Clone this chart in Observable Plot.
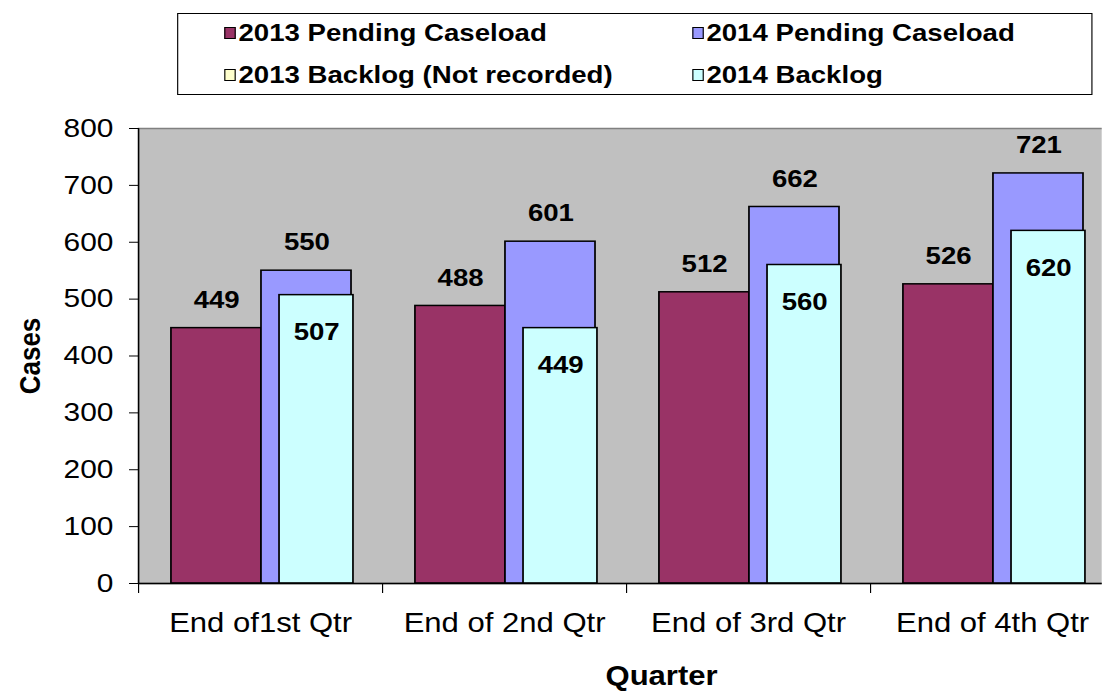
<!DOCTYPE html>
<html><head><meta charset="utf-8">
<script src="https://cdn.jsdelivr.net/npm/d3@7"></script>
<script src="https://cdn.jsdelivr.net/npm/@observablehq/plot@0.6"></script>
<style>
body{margin:0;background:#fff;font-family:"Liberation Sans",Arial,sans-serif;overflow:hidden}
#outer{position:relative;width:1102px;height:700px;overflow:hidden}
#wrap{position:absolute;left:0;top:0;height:700px;transform-origin:0 0}
#legend{position:absolute;border:1px solid #000;background:#fff;box-sizing:border-box}
.item{position:absolute;font-weight:bold;display:flex;align-items:center;line-height:1;white-space:nowrap;color:#000}
.sw{height:12px;border:1.5px solid #000;box-sizing:border-box;margin-right:2px}
</style></head><body>
<div id="outer"><div id="wrap"><div id="chart"></div><div id="legend"></div></div></div>
<script>
const quarters = ["End of1st Qtr", "End of 2nd Qtr", "End of 3rd Qtr", "End of 4th Qtr"];
const pending2013 = [449, 488, 512, 526];
const pending2014 = [550, 601, 662, 721];
const backlog2014 = [507, 449, 560, 620];
const backlog2013 = [null, null, null, null]; // not recorded
const yTicks = [0, 100, 200, 300, 400, 500, 600, 700, 800];
const seriesNames = ["2013 Pending Caseload", "2014 Pending Caseload", "2013 Backlog (Not recorded)", "2014 Backlog"];
const seriesColors = ["#993366", "#9999FF", "#FFFFCC", "#CCFFFF"];

// The reference rendering is stretched horizontally; reproduce with a uniform x-stretch.
const S = 1.15;
const W = 1102 / S;
const rows = quarters.map((q, i) => ({i, q, p13: pending2013[i], p14: pending2014[i], b14: backlog2014[i]}));

const FONT = '"Liberation Sans", Arial, sans-serif';
const chart = Plot.plot({
  width: W, height: 700,
  marginLeft: 138 / S, marginRight: W - 1114 / S, marginTop: 128, marginBottom: 117,
  style: {fontFamily: FONT, fontSize: "24px", color: "#000", background: "transparent", overflow: "hidden"},
  x: {type: "linear", domain: [0, 4], axis: null},
  y: {domain: [0, 800], axis: null, label: null},
  marks: [
    Plot.frame({fill: "#C0C0C0", stroke: "#808080", strokeWidth: 1.5}),
    Plot.rect(rows, {x1: d => d.i + 0.135, x2: d => d.i + 0.504, y1: () => 0, y2: "p13", fill: seriesColors[0], stroke: "#000", strokeWidth: 1.5}),
    Plot.rect(rows, {x1: d => d.i + 0.504, x2: d => d.i + 0.873, y1: () => 0, y2: "p14", fill: seriesColors[1], stroke: "#000", strokeWidth: 1.5}),
    Plot.rect(rows, {x1: d => d.i + 0.578, x2: d => d.i + 0.881, y1: () => 0, y2: "b14", fill: seriesColors[3], stroke: "#000", strokeWidth: 1.5}),
    Plot.ruleY([0], {stroke: "#000", strokeWidth: 1.5}),
    Plot.ruleX([0], {stroke: "#000", strokeWidth: 1.2}),
    Plot.axisY({ticks: yTicks, tickSize: 9 / S, tickPadding: 14, fontSize: 26, label: null, stroke: "#000"}),
    Plot.axisX({ticks: [0, 1, 2, 3, 4], tickSize: 10, tickFormat: () => "", label: null, stroke: "#000"}),
    Plot.text(rows, {x: d => d.i + 0.5, text: "q", frameAnchor: "bottom", dy: 49, fontSize: 27}),
    Plot.text(rows, {x: d => d.i + 0.32, y: "p13", text: "p13", dy: -28, fontSize: 24, fontWeight: "bold"}),
    Plot.text(rows, {x: d => d.i + 0.69, y: "p14", text: "p14", dy: -28, fontSize: 24, fontWeight: "bold"}),
    Plot.text(rows, {x: d => d.i + 0.73, y: "b14", text: "b14", dy: 37, fontSize: 24, fontWeight: "bold"}),
    Plot.text(["Cases"], {frameAnchor: "left", textAnchor: "middle", dx: (30 - 138) / S, rotate: -90, fontSize: 26, fontWeight: "bold"}),
    Plot.text(["Quarter"], {frameAnchor: "bottom", textAnchor: "middle", dx: 35 / S, dy: 102, fontSize: 27, fontWeight: "bold"})
  ]
});
document.getElementById("chart").append(chart);
const wrap = document.getElementById("wrap");
wrap.style.width = W + "px";
wrap.style.transform = `scaleX(${S})`;

const legend = document.getElementById("legend");
legend.style.left = (177 / S) + "px";
legend.style.top = "13px";
legend.style.width = ((1092 - 177) / S) + "px";
legend.style.height = "82px";
const pos = [[46, 19], [514, 19], [46, 61], [514, 61]];
seriesNames.forEach((name, k) => {
  const it = document.createElement("div");
  it.className = "item";
  it.style.fontSize = "24px";
  it.style.left = (pos[k][0] / S) + "px";
  it.style.top = (pos[k][1] - 12) + "px";
  it.style.height = "24px";
  const sw = document.createElement("span");
  sw.className = "sw";
  sw.style.width = (12 / S) + "px";
  sw.style.background = seriesColors[k];
  it.append(sw, document.createTextNode(name));
  legend.append(it);
});
</script>
</body></html>
